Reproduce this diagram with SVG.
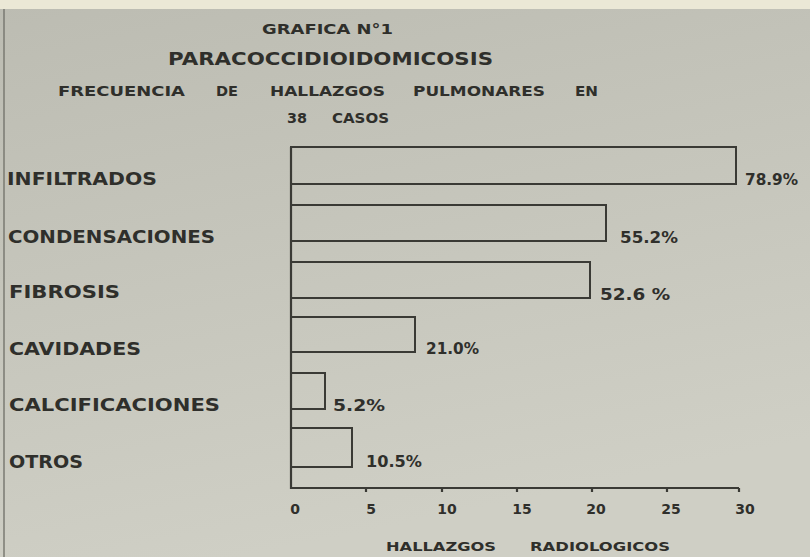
<svg xmlns="http://www.w3.org/2000/svg" width="810" height="557" viewBox="0 0 810 557">
<defs>
<linearGradient id="bg" x1="0" y1="0" x2="0.3" y2="1">
<stop offset="0" stop-color="#bcbcb2"/>
<stop offset="1" stop-color="#cfcfc5"/>
</linearGradient>
<style>
text{font-family:"DejaVu Sans","Liberation Sans",sans-serif;font-weight:bold;fill:#2f2f2b}
.lbl{font-size:17px}
.pct{font-size:16px}
.t1{font-size:14px}
.t2{font-size:17px}
.t3{font-size:13px}
.tick{font-size:14px;text-anchor:middle}
.bar{fill:none;stroke:#3a3a35;stroke-width:2}
.ax{fill:none;stroke:#3a3a35;stroke-width:2.2}
</style>
</defs>
<rect width="810" height="557" fill="url(#bg)"/>
<rect width="810" height="9" fill="#ebe8d6"/>
<line x1="4" y1="9" x2="4" y2="557" stroke="#7a7a72" stroke-width="1.5"/>

<g id="title">
<text class="t1" x="262" y="34" textLength="131" lengthAdjust="spacingAndGlyphs">GRAFICA N°1</text>
<text class="t2" x="168" y="65" textLength="325" lengthAdjust="spacingAndGlyphs">PARACOCCIDIOIDOMICOSIS</text>
<text class="t1" x="58" y="96" textLength="127" lengthAdjust="spacingAndGlyphs">FRECUENCIA</text>
<text class="t1" x="216" y="96" textLength="22" lengthAdjust="spacingAndGlyphs">DE</text>
<text class="t1" x="270" y="96" textLength="115" lengthAdjust="spacingAndGlyphs">HALLAZGOS</text>
<text class="t1" x="413" y="96" textLength="132" lengthAdjust="spacingAndGlyphs">PULMONARES</text>
<text class="t1" x="575" y="96" textLength="23" lengthAdjust="spacingAndGlyphs">EN</text>
<text class="t1" x="287" y="123" textLength="20" lengthAdjust="spacingAndGlyphs">38</text>
<text class="t1" x="332" y="123" textLength="57" lengthAdjust="spacingAndGlyphs">CASOS</text>
</g>

<g id="connectors">
<polyline class="ax" points="291,147 291,488 739,488"/>
<path class="ax" d="M366,488v4M442,488v4M517,488v4M592,488v4M667,488v4M739,488v4"/>
</g>

<g id="axis-labels">
<text class="tick" x="295" y="514">0</text>
<text class="tick" x="371" y="514">5</text>
<text class="tick" x="447" y="514">10</text>
<text class="tick" x="522" y="514">15</text>
<text class="tick" x="596" y="514">20</text>
<text class="tick" x="671" y="514">25</text>
<text class="tick" x="745" y="514">30</text>
<text class="t3" x="386" y="551" textLength="110" lengthAdjust="spacingAndGlyphs">HALLAZGOS</text>
<text class="t3" x="530" y="551" textLength="140" lengthAdjust="spacingAndGlyphs">RADIOLOGICOS</text>
</g>

<g id="infiltrados">
<text class="lbl" x="7" y="185" textLength="150" lengthAdjust="spacingAndGlyphs">INFILTRADOS</text>
<rect class="bar" x="291" y="147" width="445" height="37"/>
<text class="pct" x="745" y="185" textLength="53" lengthAdjust="spacingAndGlyphs">78.9%</text>
</g>
<g id="condensaciones">
<text class="lbl" x="8" y="243" textLength="207" lengthAdjust="spacingAndGlyphs">CONDENSACIONES</text>
<rect class="bar" x="291" y="205" width="315" height="36"/>
<text class="pct" x="620" y="243" textLength="58" lengthAdjust="spacingAndGlyphs">55.2%</text>
</g>
<g id="fibrosis">
<text class="lbl" x="9" y="298" textLength="111" lengthAdjust="spacingAndGlyphs">FIBROSIS</text>
<rect class="bar" x="291" y="262" width="299" height="36"/>
<text class="pct" x="600" y="300" textLength="70" lengthAdjust="spacingAndGlyphs">52.6 %</text>
</g>
<g id="cavidades">
<text class="lbl" x="9" y="355" textLength="132" lengthAdjust="spacingAndGlyphs">CAVIDADES</text>
<rect class="bar" x="291" y="317" width="124" height="35"/>
<text class="pct" x="426" y="354" textLength="53" lengthAdjust="spacingAndGlyphs">21.0%</text>
</g>
<g id="calcificaciones">
<text class="lbl" x="9" y="411" textLength="211" lengthAdjust="spacingAndGlyphs">CALCIFICACIONES</text>
<rect class="bar" x="291" y="373" width="34" height="36"/>
<text class="pct" x="333" y="411" textLength="52" lengthAdjust="spacingAndGlyphs">5.2%</text>
</g>
<g id="otros">
<text class="lbl" x="9" y="468" textLength="74" lengthAdjust="spacingAndGlyphs">OTROS</text>
<rect class="bar" x="291" y="428" width="61" height="39"/>
<text class="pct" x="366" y="467" textLength="56" lengthAdjust="spacingAndGlyphs">10.5%</text>
</g>
</svg>
